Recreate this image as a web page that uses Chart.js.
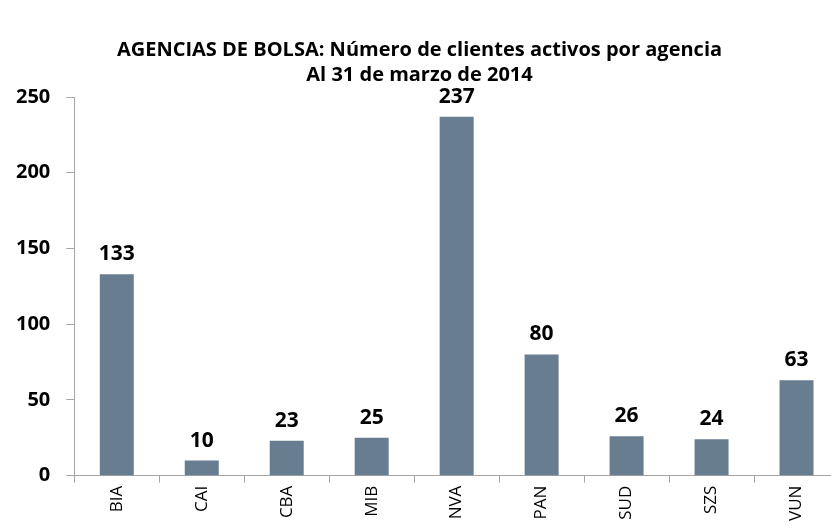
<!DOCTYPE html>
<html>
<head>
<meta charset="utf-8">
<script src="https://cdn.jsdelivr.net/npm/chart.js@4/dist/chart.umd.min.js"></script>
<style>
  html, body { margin: 0; padding: 0; background: #fff; overflow: hidden; }
  #wrap { width: 839px; height: 529px; }
</style>
</head>
<body>
<div id="wrap"><canvas id="chart"></canvas></div>
<script>
const agencias = ['BIA', 'CAI', 'CBA', 'MIB', 'NVA', 'PAN', 'SUD', 'SZS', 'VUN'];
const clientes = [133, 10, 23, 25, 237, 80, 26, 24, 63];
const yTicks = [0, 50, 100, 150, 200, 250];
const titulo = ['AGENCIAS DE BOLSA: Número de clientes activos por agencia', 'Al 31 de marzo de 2014'];

const FONT = "'Open Sans', 'DejaVu Sans', sans-serif";

// numbers above each bar
const valueLabels = {
  id: 'valueLabels',
  afterDatasetsDraw(chart) {
    const ctx = chart.ctx;
    const meta = chart.getDatasetMeta(0);
    ctx.save();
    ctx.font = 'bold 21px ' + FONT;
    ctx.fillStyle = '#000';
    ctx.textAlign = 'center';
    ctx.textBaseline = 'alphabetic';
    meta.data.forEach((bar, i) => {
      ctx.fillText(String(clientes[i]), bar.x, bar.y - 14);
    });
    ctx.restore();
  }
};

new Chart(document.getElementById('chart'), {
  type: 'bar',
  data: {
    labels: agencias,
    datasets: [{
      data: clientes,
      backgroundColor: '#687d8f',
      barPercentage: 0.4,
      categoryPercentage: 1.0
    }]
  },
  options: {
    responsive: true,
    maintainAspectRatio: false,
    animation: false,
    layout: { padding: { left: 0, right: 0, top: 6, bottom: 5 } },
    plugins: {
      legend: { display: false },
      tooltip: { enabled: false },
      title: {
        display: true,
        text: titulo,
        color: '#000',
        font: { family: FONT, size: 20, weight: 'bold', lineHeight: 1.25 },
        padding: { top: 32, bottom: 9 }
      }
    },
    scales: {
      x: {
        grid: {
          display: true,
          drawOnChartArea: false,
          offset: true,
          color: '#a6a6a6',
          tickLength: 7
        },
        border: { color: '#a6a6a6', width: 1 },
        ticks: {
          color: '#000',
          font: { family: FONT, size: 17 },
          maxRotation: 90,
          minRotation: 90,
          padding: 3
        }
      },
      y: {
        min: 0,
        max: 250,
        afterBuildTicks(axis) {
          axis.ticks = yTicks.map(v => ({ value: v }));
        },
        grid: {
          display: true,
          drawOnChartArea: false,
          color: '#a6a6a6',
          tickLength: 8
        },
        border: { color: '#a6a6a6', width: 1 },
        ticks: {
          color: '#000',
          font: { family: FONT, size: 20, weight: 'bold' },
          padding: 16
        }
      }
    }
  },
  plugins: [valueLabels]
});
</script>
</body>
</html>
